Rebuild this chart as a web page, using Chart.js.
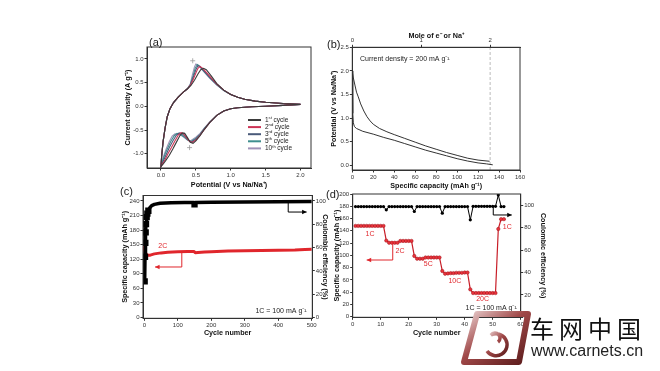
<!DOCTYPE html>
<html>
<head>
<meta charset="utf-8">
<script src="https://cdn.jsdelivr.net/npm/chart.js@4.4.1/dist/chart.umd.min.js"></script>
<style>
  body { margin: 0; width: 660px; height: 371px; background: #fff; position: relative; overflow: hidden;
         font-family: "Liberation Sans", Arial, sans-serif; }
  canvas { position: absolute; }
  .tag { position: absolute; font-size: 11px; color: #222; }
</style>
</head>
<body>
<canvas id="cv" width="215" height="165" style="left:110px;top:30px"></canvas>
<canvas id="gc" width="210" height="170" style="left:325px;top:25px"></canvas>
<canvas id="life" width="225" height="160" style="left:110px;top:185px"></canvas>
<canvas id="rate" width="230" height="160" style="left:325px;top:185px"></canvas>
<div class="tag" style="left:149px;top:36px">(a)</div>
<div class="tag" style="left:327px;top:38px">(b)</div>
<div class="tag" style="left:120px;top:185px">(c)</div>
<div class="tag" style="left:326px;top:188px">(d)</div>

<svg style="position:absolute;left:455px;top:307px" width="80" height="62" viewBox="0 0 80 62">
  <defs>
    <linearGradient id="lg" x1="0" y1="0" x2="1" y2="1">
      <stop offset="0" stop-color="#ead0d0"/>
      <stop offset="0.45" stop-color="#a04848"/>
      <stop offset="1" stop-color="#5c1c1c"/>
    </linearGradient>
  </defs>
  <path d="M22 7 H73 L64 55 H9 Z" fill="none" stroke="url(#lg)" stroke-width="6" stroke-linejoin="round"/>
  <path d="M43 35 a5 5 0 1 0 -7 -7 a11 11 0 1 1 -4 16" fill="none" stroke="url(#lg)" stroke-width="3.5"/>
</svg>
<div style="position:absolute;left:530px;top:310px;font-size:24px;letter-spacing:5px;color:#111;font-family:'Noto Sans CJK SC',sans-serif">车网中国</div>
<div style="position:absolute;left:531px;top:342px;font-size:16px;color:#222">www.carnets.cn</div>

<script>
// (a) cyclic voltammograms, [potential V, current density A/g]
const cv1st = [[2.0,0.04],[1.75,0.02],[1.5,0.0],[1.3,-0.01],[1.1,-0.03],[1.0,-0.05],[0.9,-0.1],[0.8,-0.19],[0.7,-0.34],[0.62,-0.49],[0.56,-0.62],[0.5,-0.73],[0.46,-0.78],[0.42,-0.76],[0.38,-0.66],[0.34,-0.57],[0.31,-0.56],[0.27,-0.62],[0.22,-0.76],[0.17,-0.9],[0.12,-1.03],[0.07,-1.14],[0.03,-1.22],[0.0,-1.27],
  [0.01,-1.05],[0.03,-0.75],[0.06,-0.45],[0.09,-0.22],[0.13,-0.05],[0.18,0.08],[0.25,0.2],[0.32,0.3],[0.38,0.37],[0.43,0.44],[0.48,0.55],[0.53,0.68],[0.57,0.77],[0.61,0.8],[0.65,0.77],[0.72,0.64],[0.8,0.48],[0.9,0.34],[1.0,0.25],[1.1,0.19],[1.2,0.15],[1.35,0.11],[1.5,0.085],[1.75,0.06],[2.0,0.045]];
const cv2nd = [[2.0,0.04],[1.75,0.02],[1.5,0.0],[1.3,-0.01],[1.1,-0.03],[1.0,-0.05],[0.9,-0.1],[0.8,-0.19],[0.7,-0.34],[0.62,-0.49],[0.56,-0.61],[0.5,-0.71],[0.45,-0.76],[0.41,-0.74],[0.36,-0.65],[0.32,-0.57],[0.29,-0.555],[0.25,-0.6],[0.2,-0.73],[0.15,-0.87],[0.1,-1.0],[0.06,-1.12],[0.02,-1.22],[0.0,-1.27],
  [0.01,-1.05],[0.03,-0.75],[0.06,-0.45],[0.09,-0.22],[0.13,-0.05],[0.18,0.08],[0.25,0.2],[0.32,0.3],[0.38,0.37],[0.42,0.44],[0.46,0.56],[0.5,0.7],[0.53,0.8],[0.56,0.84],[0.6,0.8],[0.66,0.7],[0.72,0.6],[0.8,0.47],[0.9,0.34],[1.0,0.25],[1.1,0.19],[1.2,0.15],[1.35,0.11],[1.5,0.085],[1.75,0.06],[2.0,0.045]];
const cv3rd = [[2.0,0.04],[1.75,0.02],[1.5,0.0],[1.3,-0.01],[1.1,-0.03],[1.0,-0.05],[0.9,-0.1],[0.8,-0.19],[0.7,-0.34],[0.62,-0.48],[0.56,-0.6],[0.5,-0.69],[0.44,-0.75],[0.4,-0.72],[0.35,-0.64],[0.3,-0.575],[0.26,-0.56],[0.22,-0.61],[0.17,-0.73],[0.12,-0.87],[0.08,-1.0],[0.04,-1.13],[0.01,-1.23],[0.0,-1.27],
  [0.01,-1.05],[0.03,-0.75],[0.06,-0.45],[0.09,-0.22],[0.13,-0.05],[0.18,0.08],[0.25,0.2],[0.32,0.3],[0.38,0.37],[0.42,0.45],[0.46,0.6],[0.5,0.77],[0.53,0.86],[0.57,0.82],[0.63,0.72],[0.7,0.61],[0.8,0.46],[0.9,0.34],[1.0,0.25],[1.1,0.19],[1.2,0.15],[1.35,0.11],[1.5,0.085],[1.75,0.06],[2.0,0.045]];
const cv5th = [[2.0,0.04],[1.75,0.02],[1.5,0.0],[1.3,-0.01],[1.1,-0.03],[1.0,-0.05],[0.9,-0.1],[0.8,-0.19],[0.7,-0.34],[0.62,-0.47],[0.56,-0.59],[0.5,-0.67],[0.43,-0.74],[0.38,-0.71],[0.33,-0.64],[0.27,-0.585],[0.23,-0.57],[0.19,-0.62],[0.14,-0.74],[0.1,-0.87],[0.06,-1.0],[0.03,-1.12],[0.0,-1.27],
  [0.01,-1.05],[0.03,-0.75],[0.06,-0.45],[0.09,-0.22],[0.13,-0.05],[0.18,0.08],[0.25,0.2],[0.32,0.3],[0.38,0.37],[0.42,0.46],[0.46,0.64],[0.49,0.8],[0.52,0.88],[0.56,0.84],[0.62,0.73],[0.7,0.6],[0.8,0.45],[0.9,0.33],[1.0,0.25],[1.1,0.19],[1.2,0.15],[1.35,0.11],[1.5,0.085],[1.75,0.06],[2.0,0.045]];
const cv10th = [[2.0,0.04],[1.75,0.02],[1.5,0.0],[1.3,-0.01],[1.1,-0.03],[1.0,-0.05],[0.9,-0.1],[0.8,-0.19],[0.7,-0.33],[0.62,-0.46],[0.56,-0.57],[0.5,-0.65],[0.42,-0.73],[0.37,-0.7],[0.31,-0.63],[0.25,-0.59],[0.2,-0.58],[0.16,-0.63],[0.12,-0.74],[0.08,-0.88],[0.05,-1.0],[0.02,-1.13],[0.0,-1.27],
  [0.01,-1.05],[0.03,-0.75],[0.06,-0.45],[0.09,-0.22],[0.13,-0.05],[0.18,0.08],[0.25,0.2],[0.32,0.3],[0.38,0.37],[0.42,0.47],[0.45,0.66],[0.48,0.83],[0.5,0.89],[0.54,0.86],[0.6,0.75],[0.7,0.59],[0.8,0.45],[0.9,0.33],[1.0,0.25],[1.1,0.19],[1.2,0.15],[1.35,0.11],[1.5,0.085],[1.75,0.06],[2.0,0.045]];
const cvLabels = ['1st cycle', '2nd cycle', '3rd cycle', '5th cycle', '10th cycle'];
const cvMarks = [[0.455, 0.96], [0.41, -0.87]];
const potentialTicks = [0, 0.5, 1, 1.5, 2];
const currentTicks = [-1, -0.5, 0, 0.5, 1];

// (b) potential profiles, [capacity mAh/g, potential V]
const gcUpper = [[0,1.98],[1,1.85],[2.5,1.7],[4,1.55],[5.7,1.45],[8,1.3],[11,1.15],[14,1.03],[17,0.94],[20,0.87],[26,0.78],[33,0.71],[40,0.65],[50,0.57],[60,0.49],[70,0.41],[80,0.34],[90,0.27],[100,0.21],[110,0.15],[120,0.11],[131,0.085]];
const gcLower = [[0,2.0],[0.3,1.5],[0.6,1.1],[1,0.9],[2,0.82],[4,0.78],[10,0.72],[20,0.66],[30,0.59],[40,0.53],[50,0.46],[60,0.39],[70,0.32],[80,0.26],[90,0.2],[100,0.14],[110,0.09],[120,0.05],[128,0.03],[134,0.01]];
const twoMoleCapacity = 131.5;
const capacityTicks = [0, 20, 40, 60, 80, 100, 120, 140, 160];
const moleTicks = [0, 1, 2];
const profileTicks = [0, 0.5, 1, 1.5, 2, 2.5];

// (c) long cycling at 2C
const lifeCapCycles = [1,2,3,5,8,12,16,20,30,40,50,70,100,130,148,152,160,180,200,250,300,350,400,450,480,500];
const lifeCapacity = [153,138,134,131,129,128,128,129,131,132,133,134.5,135.5,136,136,133.5,134,135,135.5,137,137.5,138,138.5,139,140,140.5];
const lifeCeCycles = [1,2,3,4,5,7,9,12,16,22,30,47,80,120,148,150,152,200,300,400,500];
const lifeCe = [31,52,64,73,80,86,89,91.5,94,96,97,98,98.4,98.6,98.7,97,98.7,98.8,99.1,99.3,99.5];
const lifeCycleTicks = [0, 100, 200, 300, 400, 500];
const lifeCapTicks = [0, 30, 60, 90, 120, 150, 180, 210, 240];
const ceTicks = [0, 20, 40, 60, 80, 100];

// (d) rate test, cycles 1..54
const rateCapacity = [148,148,148,148,148,148,148,148,148,148,148,
  124,120.5,120.5,120.5,120.5,123.5,123.5,123.5,123.5,123.5,
  99,94.5,94.5,94.5,96.5,96.5,96.5,96.5,96.5,96.5,
  74.5,70,70.5,71,71,71.5,71.5,71.5,72,72,
  44.5,38.5,38.5,38.5,38.5,38.5,38.5,38.5,38.5,38.5,
  143,159,159];
const rateCe = [98.8,98.8,98.8,98.8,98.8,98.8,98.8,98.8,98.8,98.8,98.8,
  95.9,98.8,98.8,98.8,98.8,98.8,98.8,98.8,98.8,98.8,
  94.4,98.8,98.8,98.8,98.8,98.8,98.8,98.8,98.8,98.8,
  92.9,98.8,98.8,98.8,98.8,98.8,98.8,98.8,98.8,98.8,
  87,99,99,99,99,99,99,99,99,99,
  109,98.8,98.8];
const rateCycleTicks = [0, 10, 20, 30, 40, 50, 60];
const rateCapTicks = [0, 20, 40, 60, 80, 100, 120, 140, 160, 180, 200];

const cvColors = ['#3b3b3b', '#cc3355', '#4a5a7a', '#3f8f8f', '#a092b8'];
const RED = '#e0262c';

Chart.defaults.font.family = '"Liberation Sans", Arial, sans-serif';
Chart.defaults.color = '#333';

const toXY = pts => pts.map(p => ({ x: p[0], y: p[1] }));
const pair = (xs, ys) => xs.map((x, i) => ({ x: x, y: ys[i] }));

// fixes how much room an axis takes so each plot box lands where the figure has it
const room = px => scale => {
  if (scale.isHorizontal()) scale.height = px; else scale.width = px;
};

const axis = o => ({
  type: 'linear',
  position: o.pos,
  min: o.min,
  max: o.max,
  afterFit: room(o.room),
  afterBuildTicks: scale => { scale.ticks = o.ticks.map(v => ({ value: v })); },
  border: { color: '#333' },
  grid: { drawOnChartArea: false, tickLength: 2.5, color: '#333' },
  ticks: { font: { size: 6 }, padding: 1, maxRotation: 0, autoSkip: false, callback: o.fmt },
  title: { display: true, text: o.title, font: { size: 7.2, weight: 'bold' }, color: '#111', padding: o.pad }
});

const base = (top, right, scales) => ({
  responsive: false,
  animation: false,
  devicePixelRatio: 1,
  layout: { padding: { top: top, right: right, left: 0, bottom: 0 } },
  plugins: { legend: { display: false }, tooltip: { enabled: false } },
  scales: scales
});

const frame = {
  id: 'frame',
  afterDatasetsDraw(chart) {
    const { ctx, chartArea: a } = chart;
    ctx.save();
    ctx.strokeStyle = '#333';
    ctx.lineWidth = 1;
    ctx.strokeRect(a.left, a.top, a.right - a.left, a.bottom - a.top);
    ctx.restore();
  }
};

// texts and bent arrows placed in data units
function notes(list) {
  return {
    id: 'notes',
    afterDatasetsDraw(chart) {
      const { ctx, scales } = chart;
      ctx.save();
      list.forEach(n => {
        const sx = scales[n.xs || 'x'], sy = scales[n.ys || 'y'];
        const pts = (n.path || [n.at]).map(p => [sx.getPixelForValue(p[0]), sy.getPixelForValue(p[1])]);
        ctx.fillStyle = ctx.strokeStyle = n.color || '#222';
        if (n.text) {
          ctx.font = (n.size || 7) + 'px "Liberation Sans", Arial';
          ctx.textAlign = n.align || 'center';
          ctx.textBaseline = 'middle';
          ctx.fillText(n.text, pts[0][0], pts[0][1]);
          return;
        }
        ctx.lineWidth = 1;
        ctx.beginPath();
        pts.forEach((p, i) => i ? ctx.lineTo(p[0], p[1]) : ctx.moveTo(p[0], p[1]));
        ctx.stroke();
        const [x1, y1] = pts[pts.length - 2], [x2, y2] = pts[pts.length - 1];
        const ang = Math.atan2(y2 - y1, x2 - x1);
        ctx.beginPath();
        ctx.moveTo(x2, y2);
        ctx.lineTo(x2 - 5 * Math.cos(ang - 0.45), y2 - 5 * Math.sin(ang - 0.45));
        ctx.lineTo(x2 - 5 * Math.cos(ang + 0.45), y2 - 5 * Math.sin(ang + 0.45));
        ctx.closePath();
        ctx.fill();
      });
      ctx.restore();
    }
  };
}

// legend inside the CV plot, with raised ordinal suffixes
const cvLegend = {
  id: 'cvLegend',
  afterDatasetsDraw(chart) {
    const { ctx, chartArea: a } = chart;
    ctx.save();
    ctx.textBaseline = 'middle';
    chart.data.datasets.forEach((ds, i) => {
      const m = /^(\d+)(\D+?) (.+)$/.exec(ds.label || '');
      if (!m) return;
      const x = a.left + 101, y = a.top + 73 + i * 7.1;
      ctx.strokeStyle = ds.borderColor;
      ctx.lineWidth = 2;
      ctx.beginPath(); ctx.moveTo(x, y); ctx.lineTo(x + 13, y); ctx.stroke();
      ctx.fillStyle = '#222';
      let tx = x + 17;
      ctx.font = '6.5px "Liberation Sans", Arial';
      ctx.fillText(m[1], tx, y); tx += ctx.measureText(m[1]).width;
      ctx.font = '4.2px "Liberation Sans", Arial';
      ctx.fillText(m[2], tx, y - 2); tx += ctx.measureText(m[2]).width + 1.6;
      ctx.font = '6.5px "Liberation Sans", Arial';
      ctx.fillText(m[3], tx, y);
    });
    ctx.restore();
  }
};

const one = v => v.toFixed(1);

// (a)
new Chart(document.getElementById('cv'), {
  type: 'scatter',
  data: {
    datasets: [cv1st, cv2nd, cv3rd, cv5th, cv10th].map((pts, i) => ({
      label: cvLabels[i], data: toXY(pts), showLine: true,
      borderColor: cvColors[i], borderWidth: 1.1, pointRadius: 0
    })).concat([{
      label: '', data: toXY(cvMarks), pointStyle: 'cross', pointRadius: 2.5,
      borderColor: '#999', borderWidth: 0.8
    }])
  },
  options: base(17, 14, {
    x: axis({ pos: 'bottom', min: -0.2, max: 2.15, ticks: potentialTicks, room: 27, fmt: one, title: 'Potential (V vs Na/Na⁺)', pad: { bottom: 5.7 } }),
    y: axis({ pos: 'left', min: -1.3, max: 1.25, ticks: currentTicks, room: 37, fmt: one, title: 'Current density (A g⁻¹)', pad: { top: 13.7 } })
  }),
  plugins: [frame, cvLegend]
});

// (b)
new Chart(document.getElementById('gc'), {
  type: 'scatter',
  data: {
    datasets: [
      { data: toXY(gcUpper), showLine: true, borderColor: '#333', borderWidth: 1, pointRadius: 0 },
      { data: toXY(gcLower), showLine: true, borderColor: '#333', borderWidth: 1, pointRadius: 0 },
      { data: [{ x: twoMoleCapacity, y: -0.1 }, { x: twoMoleCapacity, y: 2.5 }], showLine: true,
        borderColor: '#aaa', borderWidth: 0.8, borderDash: [3, 2], pointRadius: 0 }
    ]
  },
  options: base(0, 15, {
    x: axis({ pos: 'bottom', min: 0, max: 160, ticks: capacityTicks, room: 25, title: 'Specific capacity (mAh g⁻¹)', pad: { bottom: 5 } }),
    x2: axis({ pos: 'top', min: 0, max: 160 * 2 / twoMoleCapacity, ticks: moleTicks, room: 22.3, title: 'Mole of e⁻ or Na⁺', pad: { top: 6.7 } }),
    y: axis({ pos: 'left', min: -0.1, max: 2.5, ticks: profileTicks, room: 27.3, fmt: one, title: 'Potential (V vs Na/Na⁺)', pad: { top: 4.7 } })
  }),
  plugins: [frame, notes([
    { at: [7.3, 2.25], text: 'Current density = 200 mA g⁻¹', align: 'left' }
  ])]
});

// (c)
new Chart(document.getElementById('life'), {
  type: 'scatter',
  data: {
    datasets: [
      { data: pair(lifeCeCycles, lifeCe), yAxisID: 'y2', showLine: true, borderColor: '#000', borderWidth: 3.5,
        pointStyle: 'rect', backgroundColor: '#000', borderJoinStyle: 'round',
        pointRadius: c => (lifeCeCycles[c.dataIndex] <= 12 || lifeCeCycles[c.dataIndex] === 150) ? 2 : 0 },
      { data: pair(lifeCapCycles, lifeCapacity), yAxisID: 'y', showLine: true, borderColor: RED, borderWidth: 3,
        backgroundColor: RED, borderJoinStyle: 'round', pointRadius: c => c.dataIndex === 0 ? 1.8 : 0 }
    ]
  },
  options: base(10.5, 0, {
    x: axis({ pos: 'bottom', min: -4, max: 502, ticks: lifeCycleTicks, room: 26.7, title: 'Cycle number', pad: { bottom: 8 } }),
    y: axis({ pos: 'left', min: -1.5, max: 251, ticks: lifeCapTicks, room: 33, title: 'Specific capacity (mAh g⁻¹)', pad: { top: 10.7 } }),
    y2: axis({ pos: 'right', min: -0.625, max: 104.6, ticks: ceTicks, room: 22.7, title: 'Coulombic efficiency (%)', pad: { top: 5.7 } })
  }),
  plugins: [frame, notes([
    { at: [55, 147.5], text: '2C', color: RED },
    { path: [[112, 133], [112, 104], [32, 104]], color: RED },
    { path: [[430, 237], [430, 217], [485, 217]], color: '#000' },
    { at: [485, 12.5], text: '1C = 100 mA g⁻¹', align: 'right' }
  ])]
});

// (d)
new Chart(document.getElementById('rate'), {
  type: 'scatter',
  data: {
    datasets: [
      { data: rateCe.map((v, i) => ({ x: i + 1, y: v })), yAxisID: 'y2', showLine: true, borderColor: '#000',
        borderWidth: 1, backgroundColor: '#000', pointRadius: 1.6, pointBorderWidth: 0 },
      { data: rateCapacity.map((v, i) => ({ x: i + 1, y: v })), yAxisID: 'y', showLine: true, borderColor: '#c81e28',
        borderWidth: 1.2, backgroundColor: '#e8343c', pointBorderColor: '#a01018', pointBorderWidth: 0.5, pointRadius: 1.7 }
    ]
  },
  options: base(9, 0, {
    x: axis({ pos: 'bottom', min: 0, max: 60, ticks: rateCycleTicks, room: 27.7, title: 'Cycle number', pad: { bottom: 7.4 } }),
    y: axis({ pos: 'left', min: -1, max: 200, ticks: rateCapTicks, room: 27.7, title: 'Specific capacity (mAh g⁻¹)', pad: { top: 8 } }),
    y2: axis({ pos: 'right', min: 0, max: 110, ticks: ceTicks, room: 34.3, title: 'Coulombic efficiency (%)', pad: { top: 7.4 } })
  }),
  plugins: [frame, notes([
    { at: [6.2, 134], text: '1C', color: RED },
    { at: [16.9, 107.6], text: '2C', color: RED },
    { at: [27, 85.4], text: '5C', color: RED },
    { at: [36.5, 57.5], text: '10C', color: RED },
    { at: [46.4, 29.5], text: '20C', color: RED },
    { at: [55.2, 146.7], text: '1C', color: RED },
    { path: [[14.3, 123], [14.3, 92.4], [5, 92.4]], color: RED },
    { path: [[50.2, 179.3], [50.2, 165.8], [56.8, 165.8]], color: '#000' },
    { at: [58.6, 13.4], text: '1C = 100 mA g⁻¹', align: 'right' }
  ])]
});
</script>
</body>
</html>
